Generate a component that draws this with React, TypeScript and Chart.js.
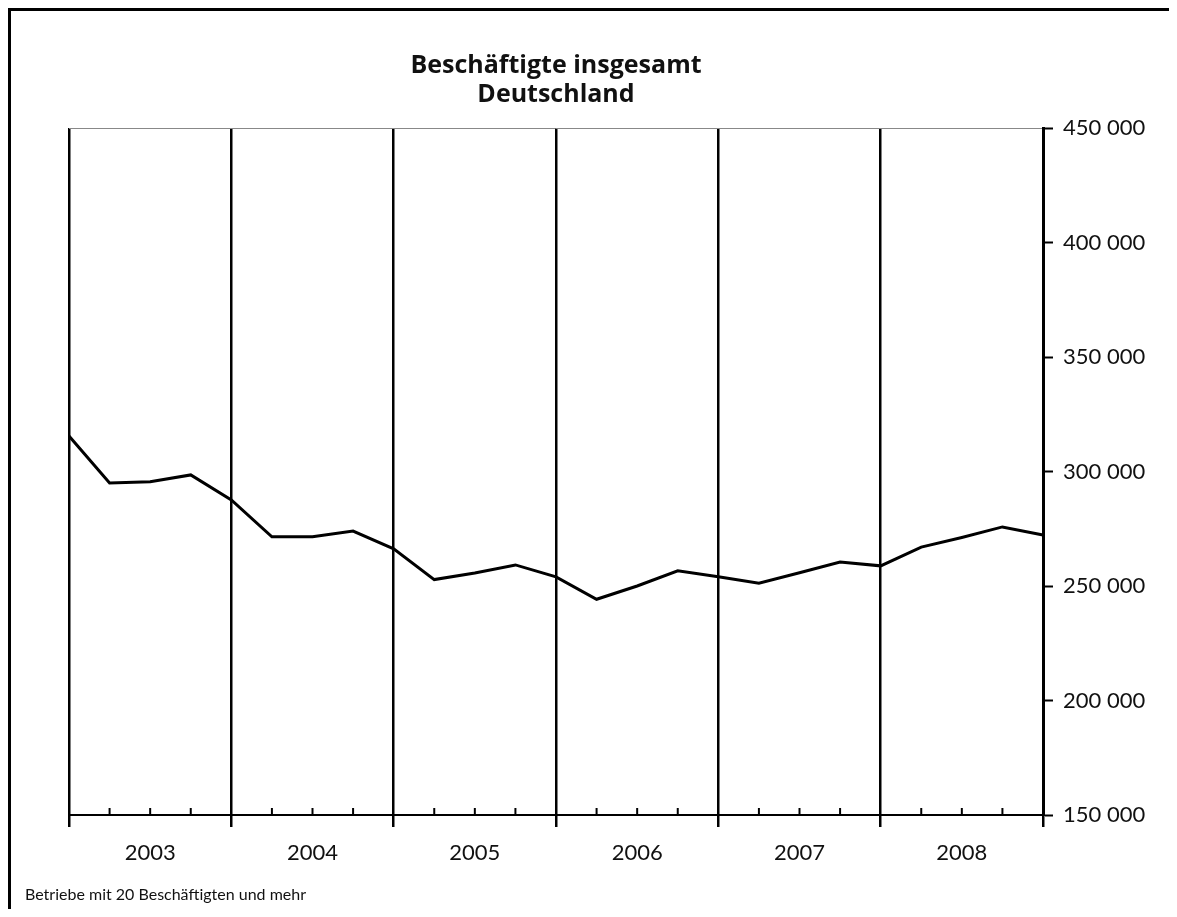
import React, { useEffect, useRef } from "react";
import { Chart, registerables } from "chart.js";

Chart.register(...registerables);

const quarterLabels = [
  "I/2003", "II/2003", "III/2003", "IV/2003",
  "I/2004", "II/2004", "III/2004", "IV/2004",
  "I/2005", "II/2005", "III/2005", "IV/2005",
  "I/2006", "II/2006", "III/2006", "IV/2006",
  "I/2007", "II/2007", "III/2007", "IV/2007",
  "I/2008", "II/2008", "III/2008", "IV/2008",
  "I/2009",
];
const yearLabels = ["2003", "2004", "2005", "2006", "2007", "2008"];
const employees = [
  315500, 295000, 295500, 298500,
  287600, 271500, 271500, 274000,
  266200, 252800, 255700, 259200,
  254000, 244200, 250000, 256600,
  254000, 251200, 255800, 260500,
  258800, 267000, 271200, 275800,
  272300,
];
const titleLines = ["Beschäftigte insgesamt", "Deutschland"];
const footnote = "Betriebe mit 20 Beschäftigten und mehr";
const yTicks = { min: 150000, max: 450000, step: 50000 };

const FONT = "Lato, 'Noto Sans', sans-serif";
const TITLE_FONT = "'Open Sans', 'Noto Sans', sans-serif";

const quarterTicksPlugin = {
  id: "quarterTicks",
  afterDatasetsDraw(chart: any) {
    const x = chart.scales.x;
    const bottom = chart.chartArea.bottom;
    const ctx = chart.ctx;
    ctx.save();
    ctx.strokeStyle = "#000";
    ctx.lineWidth = 2;
    for (let i = 0; i < quarterLabels.length; i++) {
      if (i % 4 === 0) continue;
      const px = x.getPixelForTick(i);
      ctx.beginPath();
      ctx.moveTo(px, bottom);
      ctx.lineTo(px, bottom - 7);
      ctx.stroke();
    }
    ctx.restore();
  },
};

function fmt(v: number) {
  return String(v).replace(/\B(?=(\d{3})+(?!\d))/g, " ");
}

export default function App() {
  const ref = useRef<HTMLCanvasElement | null>(null);

  useEffect(() => {
    if (!ref.current) return;
    const chart = new Chart(ref.current, {
      type: "line",
      data: {
        labels: quarterLabels,
        datasets: [
          {
            data: employees,
            borderColor: "#000",
            borderWidth: 3,
            pointRadius: 0,
            tension: 0,
            fill: false,
            yAxisID: "y",
          },
        ],
      },
      plugins: [quarterTicksPlugin],
      options: {
        animation: false,
        responsive: false,
        devicePixelRatio: 1,
        layout: { padding: { left: 25, right: 14, top: 51.5, bottom: 12.8 } },
        plugins: {
          legend: { display: false },
          tooltip: { enabled: false },
          title: {
            display: true,
            text: titleLines,
            fullSize: false,
            color: "#111",
            font: { family: TITLE_FONT, size: 25, weight: 700, lineHeight: 29 / 25 },
            padding: { top: 0, bottom: 18.5 },
          },
          subtitle: {
            display: true,
            text: footnote,
            position: "bottom",
            align: "start",
            color: "#111",
            font: { family: FONT, size: 16, lineHeight: 1.2 },
            padding: { top: 10, bottom: 0 },
          },
        },
        scales: {
          x: {
            type: "category",
            offset: false,
            grid: {
              display: true,
              drawOnChartArea: true,
              color: (c: any) => (c.index % 4 === 0 ? "#000" : "rgba(0,0,0,0)"),
              tickColor: (c: any) => (c.index % 4 === 0 ? "#000" : "rgba(0,0,0,0)"),
              lineWidth: 2.5,
              tickWidth: 2.5,
              tickLength: 12,
            },
            border: { display: true, color: "#000", width: 2 },
            ticks: {
              autoSkip: false,
              maxRotation: 0,
              padding: 13,
              color: "#111",
              font: { family: FONT, size: 22 },
              callback: (_v: any, i: number) => (i % 4 === 2 ? yearLabels[Math.floor(i / 4)] : ""),
            },
            afterFit: (s: any) => {
              s.height = 60;
            },
          },
          y: {
            type: "linear",
            position: "right",
            min: yTicks.min,
            max: yTicks.max,
            grid: {
              display: true,
              drawOnChartArea: true,
              color: (c: any) => (c.tick && c.tick.value === yTicks.max ? "#888" : "rgba(0,0,0,0)"),
              lineWidth: 1,
              tickColor: "#000",
              tickWidth: 2,
              tickLength: 10,
            },
            border: { display: true, color: "#000", width: 3 },
            ticks: {
              stepSize: yTicks.step,
              padding: 10,
              color: "#111",
              font: { family: FONT, size: 22 },
              callback: (v: any) => fmt(Number(v)),
            },
            afterFit: (s: any) => {
              s.width = 120;
            },
          },
          yLeft: {
            type: "linear",
            position: "left",
            display: true,
            grid: { display: false },
            border: { display: false },
            ticks: { display: false },
            afterFit: (s: any) => {
              s.width = 44;
            },
          },
        },
      },
    } as any);
    return () => chart.destroy();
  }, []);

  return (
    <div
      style={{
        position: "relative",
        boxSizing: "border-box",
        height: 901,
        marginRight: -8,
        borderTop: "3px solid #000",
        borderLeft: "3px solid #000",
      }}
    >
      <canvas
        ref={ref}
        width={1177}
        height={917}
        style={{ position: "absolute", left: -11, top: -11, width: 1177, height: 917 }}
      />
    </div>
  );
}
